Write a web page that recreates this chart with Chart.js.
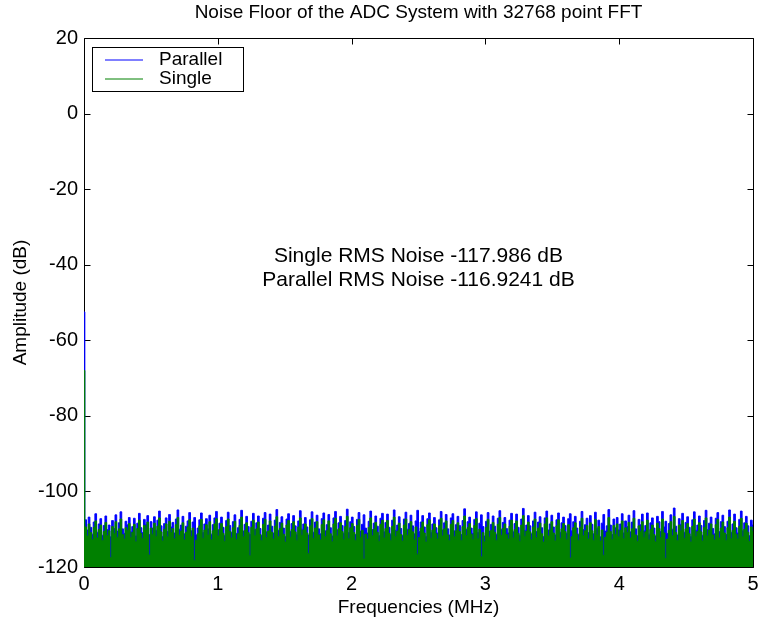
<!DOCTYPE html>
<html>
<head>
<meta charset="utf-8">
<title>Noise Floor of the ADC System</title>
<script src="https://cdn.jsdelivr.net/npm/chart.js@4.4.1/dist/chart.umd.min.js"></script>
<style>
  body { margin: 0; background: #fff; }
  #graph { display: block; }
</style>
</head>
<body>
<canvas id="graph" width="758" height="624"></canvas>
<script>
// values (dB), one per frequency bin, bin 0 is DC
var parallelDb = [
  -52.5, -107.5, -110.2, -106.8, -109.5, -111.3, -108.1, -105.9, -110.8, -108.6, -107.2, -111.6, -109.0, -106.5, -110.1, -108.9, -112.0, -107.7, -109.8, -106.2,
  -110.5, -108.3, -105.4, -109.9, -111.1, -107.9, -108.8, -106.9, -110.7, -109.3, -107.1, -111.8, -108.4, -105.8, -109.6, -110.9, -107.4, -108.7, -106.4, -111.4,
  -108.0, -109.7, -106.7, -110.3, -107.6, -105.2, -109.1, -111.9, -108.5, -107.0, -110.6, -106.1, -109.4, -108.2, -111.0, -107.3, -104.9, -110.0, -108.9, -106.6,
  -111.2, -109.2, -107.8, -105.6, -110.4, -108.1, -106.9, -111.5, -109.7, -107.5, -105.7, -110.9, -108.6, -107.2, -109.9, -106.3, -111.3, -108.8, -107.0, -105.3,
  -110.2, -108.4, -106.8, -109.5, -111.7, -107.7, -105.5, -109.0, -110.8, -108.0, -106.2, -111.1, -109.6, -107.4, -105.0, -110.5, -108.7, -106.6, -109.3, -111.4,
  -107.9, -105.8, -110.1, -108.3, -106.5, -109.8, -111.6, -107.1, -105.6, -110.7, -108.9, -106.0, -109.2, -111.0, -107.6, -104.8, -110.3, -108.2, -106.7, -109.7,
  -111.9, -107.3, -105.9, -110.6, -108.5, -106.4, -109.1, -111.3, -107.8, -105.1, -110.0, -108.6, -106.9, -109.4, -111.5, -107.5, -105.4, -110.8, -108.1, -106.3,
  -109.9, -111.2, -107.2, -105.7, -110.4, -108.8, -106.1, -109.6, -111.8, -107.0, -105.3, -110.2, -108.3, -106.6, -109.0, -111.1, -107.7, -104.7, -110.9, -108.0,
  -106.8, -109.3, -111.4, -107.4, -105.6, -110.5, -108.7, -106.2, -109.7, -111.0, -107.9, -105.2, -110.1, -108.4, -106.5, -109.2, -111.7, -107.1, -105.8, -110.7,
  -108.2, -106.0, -109.5, -111.3, -107.6, -104.9, -110.3, -108.9, -106.7, -109.8, -111.6, -107.3, -105.5, -110.0, -108.5, -106.3, -109.1, -111.2, -107.8, -105.0,
  -110.6, -108.1, -106.4, -109.4, -111.9, -107.2, -105.7, -110.8, -108.6, -106.9, -109.6, -111.0, -107.5, -105.3, -110.2, -108.3, -106.1, -109.9, -111.5, -107.0,
  -105.9, -110.4, -108.8, -106.6, -109.0, -111.4, -107.7, -104.6, -110.1, -108.0, -106.8, -109.7, -111.1, -107.4, -105.4, -110.9, -108.4, -106.2, -109.3, -111.8,
  -107.9, -105.6, -110.5, -108.7, -106.5, -109.2, -111.3, -107.1, -105.1, -110.0, -108.2, -106.9, -109.8, -111.0, -107.6, -105.8, -110.7, -108.5, -106.0, -109.5,
  -111.6, -107.3, -104.5, -110.3, -108.9, -106.4, -109.1, -111.2, -107.8, -105.5, -110.6, -108.1, -106.7, -109.6, -111.9, -107.0, -105.2, -110.2, -108.6, -106.3,
  -109.4, -111.5, -107.5, -105.7, -110.8, -108.3, -106.8, -109.0, -111.1, -107.2, -105.9, -110.4, -108.0, -106.6, -109.7, -111.3, -107.9, -105.3, -110.1, -108.8,
  -107.1, -110.9, -106.4, -108.7, -111.2, -105.5, -109.8, -107.6, -112.0, -108.4, -106.1, -110.5, -109.1, -104.8, -108.9, -111.4, -107.3, -109.6, -106.9, -110.2,
  -108.6, -105.9, -111.0, -107.8, -109.3, -106.3, -110.7, -108.1, -105.1, -109.9, -111.7, -107.4, -108.8, -106.0, -110.4, -109.0, -105.7, -111.3, -108.3, -107.0,
  -109.7, -111.8, -106.6, -108.0, -110.6, -105.3, -109.4, -107.9, -111.1, -108.5, -106.2, -110.0, -104.4, -109.2, -111.5, -107.2, -108.7, -105.8, -110.8, -108.2,
  -106.7, -109.5, -111.9, -107.5, -105.4, -110.3, -108.9, -106.5, -109.0, -111.6, -107.7, -105.0, -110.1, -108.4, -106.8, -109.8, -111.2, -107.1, -105.6, -110.6,
  -108.0, -106.3, -109.3, -111.4, -107.9, -104.9, -110.9, -108.6, -106.0, -109.6, -111.0, -107.4, -105.2, -110.4, -108.3, -106.6, -109.1, -111.7, -107.6, -108.9
];

var singleDb = [
  -68.0, -109.4, -111.8, -108.6, -110.9, -112.7, -109.5, -107.8, -112.3, -110.1, -108.9, -113.0, -110.6, -108.2, -111.7, -110.4, -117.5, -109.3, -111.2, -108.0,
  -112.1, -109.9, -107.3, -111.4, -112.6, -109.6, -110.3, -108.5, -112.2, -110.8, -108.7, -113.3, -109.8, -107.6, -111.1, -112.4, -109.0, -110.2, -108.1, -116.8,
  -109.7, -111.3, -108.4, -111.9, -109.2, -107.0, -110.7, -113.1, -110.0, -108.6, -112.0, -107.9, -110.9, -109.8, -112.5, -108.8, -106.9, -111.6, -110.5, -108.3,
  -112.8, -110.8, -109.4, -107.5, -111.9, -109.7, -118.2, -112.9, -111.2, -109.1, -107.4, -112.4, -110.2, -108.8, -111.5, -108.0, -112.8, -110.4, -108.6, -107.2,
  -111.8, -110.0, -108.5, -111.1, -113.2, -109.3, -107.3, -110.6, -112.3, -109.6, -107.9, -112.7, -111.2, -109.0, -106.8, -112.0, -110.3, -108.3, -110.9, -117.0,
  -109.5, -107.6, -111.7, -109.9, -108.1, -111.4, -113.0, -108.7, -107.4, -112.2, -110.5, -107.8, -110.8, -112.6, -109.2, -106.7, -111.9, -109.8, -108.4, -111.3,
  -113.4, -108.9, -107.7, -112.1, -110.1, -108.0, -110.7, -112.9, -109.4, -107.0, -111.6, -110.2, -108.6, -111.0, -116.4, -109.1, -107.2, -112.4, -109.7, -108.0,
  -111.5, -112.8, -108.8, -107.5, -111.9, -110.4, -107.8, -111.2, -113.3, -108.6, -107.1, -111.8, -109.9, -108.3, -110.6, -112.7, -109.3, -106.6, -112.5, -109.6,
  -108.5, -110.9, -112.9, -109.0, -107.4, -112.1, -110.3, -117.9, -111.3, -112.6, -109.5, -107.0, -111.7, -110.0, -108.2, -110.8, -113.2, -108.7, -107.6, -112.3,
  -109.8, -107.7, -111.1, -112.9, -109.2, -106.8, -111.9, -110.5, -108.4, -111.4, -113.1, -108.9, -107.3, -111.6, -110.1, -108.0, -110.7, -112.8, -109.4, -116.6,
  -112.2, -109.7, -108.1, -111.0, -113.4, -108.8, -107.5, -112.4, -110.2, -108.6, -111.2, -112.6, -109.1, -107.1, -111.8, -109.9, -107.8, -111.5, -113.0, -108.7,
  -107.7, -112.0, -110.4, -108.3, -110.6, -113.0, -109.3, -106.5, -111.7, -109.6, -108.5, -111.3, -112.7, -109.0, -107.2, -112.5, -110.0, -117.3, -110.9, -113.3,
  -109.5, -107.4, -112.1, -110.3, -108.2, -110.8, -112.9, -108.7, -106.9, -111.6, -109.8, -108.6, -111.4, -112.6, -109.2, -107.6, -112.3, -110.1, -107.8, -111.1,
  -113.2, -108.9, -106.4, -111.9, -110.5, -108.1, -110.7, -112.8, -109.4, -107.3, -112.2, -109.7, -108.4, -111.2, -113.4, -108.6, -107.0, -111.8, -110.2, -108.0,
  -111.0, -113.1, -109.1, -107.5, -112.4, -109.9, -108.5, -110.6, -112.7, -108.8, -117.6, -112.0, -109.6, -108.3, -111.3, -112.9, -109.5, -107.1, -111.7, -110.4,
  -109.0, -112.6, -108.3, -110.4, -112.9, -107.4, -111.5, -109.3, -113.1, -110.2, -116.9, -112.1, -110.8, -106.9, -110.6, -112.7, -109.0, -111.3, -108.6, -112.0,
  -110.3, -107.8, -112.5, -109.6, -110.9, -108.2, -112.3, -109.9, -107.1, -111.5, -113.2, -109.1, -110.6, -108.0, -112.1, -110.7, -107.6, -112.8, -110.1, -108.9,
  -111.4, -113.3, -108.4, -109.8, -112.2, -107.3, -111.0, -117.7, -112.6, -110.3, -108.0, -111.7, -106.6, -110.9, -113.0, -108.9, -110.5, -107.7, -112.4, -109.9,
  -108.5, -111.2, -113.4, -109.2, -107.3, -111.9, -110.6, -108.3, -110.7, -113.1, -109.5, -107.0, -111.8, -110.2, -108.6, -111.5, -112.8, -108.8, -107.4, -112.3,
  -109.7, -108.1, -111.0, -112.9, -109.6, -106.8, -112.5, -110.3, -107.9, -111.3, -112.6, -109.2, -107.1, -112.0, -110.0, -108.4, -110.8, -113.2, -109.4, -110.6
];

var seriesNames = ['Parallel', 'Single'];
var seriesColors = ['#0000ff', '#008000'];
var xTicks = [0, 1, 2, 3, 4, 5];
var yTicks = [-120, -100, -80, -60, -40, -20, 0, 20];
var noiseNotes = ['Single RMS Noise -117.986 dB', 'Parallel RMS Noise -116.9241 dB'];

// FFT bins are evenly spaced from 0 to 5 MHz
var maxFreq = 5;
function toPoints(values) {
  var step = maxFreq / (values.length - 1);
  return values.map(function (v, i) {
    return { x: i * step, y: v };
  });
}

var font = 'Liberation Sans, Arial, Helvetica, sans-serif';

// matlab style: box with inward ticks under the data, legend and text on top
var matlabLook = {
  id: 'matlabLook',
  beforeDatasetsDraw: function (chart) {
    var ctx = chart.ctx;
    var a = chart.chartArea;
    var xs = chart.scales.x;
    var ys = chart.scales.y;
    var L = Math.round(a.left) + 0.5, R = Math.round(a.right) + 0.5;
    var T = Math.round(a.top) + 0.5, B = Math.round(a.bottom) + 0.5;
    ctx.save();
    ctx.strokeStyle = '#000';
    ctx.lineWidth = 1;
    ctx.beginPath();
    ctx.rect(L, T, R - L, B - T);
    xTicks.forEach(function (t) {
      var p = Math.round(xs.getPixelForValue(t)) + 0.5;
      ctx.moveTo(p, B); ctx.lineTo(p, B - 6);
      ctx.moveTo(p, T); ctx.lineTo(p, T + 6);
    });
    yTicks.forEach(function (t) {
      var p = Math.round(ys.getPixelForValue(t)) + 0.5;
      ctx.moveTo(L, p); ctx.lineTo(L + 6, p);
      ctx.moveTo(R, p); ctx.lineTo(R - 6, p);
    });
    ctx.stroke();
    ctx.restore();
  },
  afterDraw: function (chart) {
    var ctx = chart.ctx;
    var a = chart.chartArea;
    var xs = chart.scales.x;
    var ys = chart.scales.y;
    ctx.save();
    ctx.lineWidth = 1;

    // legend box
    ctx.fillStyle = '#fff';
    ctx.strokeStyle = '#000';
    ctx.fillRect(92, 47, 151, 44);
    ctx.strokeRect(92.5, 47.5, 151, 44);
    ctx.font = '19px ' + font;
    ctx.textBaseline = 'middle';
    ctx.textAlign = 'left';
    seriesNames.forEach(function (name, i) {
      var y = 60 + i * 19;
      ctx.strokeStyle = seriesColors[i];
      ctx.beginPath();
      ctx.moveTo(105, y); ctx.lineTo(143, y);
      ctx.stroke();
      ctx.fillStyle = '#000';
      ctx.fillText(name, 159, y);
    });

    // title
    ctx.textAlign = 'center';
    ctx.fillStyle = '#000';
    ctx.font = '19px ' + font;
    ctx.fillText('Noise Floor of the ADC System with 32768 point FFT', (a.left + a.right) / 2, 13);

    // rms notes
    ctx.font = '21px ' + font;
    var cx = xs.getPixelForValue(2.5);
    var cy = ys.getPixelForValue(-41);
    ctx.fillText(noiseNotes[0], cx, cy - 12);
    ctx.fillText(noiseNotes[1], cx, cy + 12);
    ctx.restore();
  }
};

function makeChart() {
  var ctx = document.getElementById('graph').getContext('2d');

  var chart = new Chart(ctx, {
    type: 'line',
    data: {
      datasets: [
        {
          label: seriesNames[0],
          data: toPoints(parallelDb),
          borderColor: seriesColors[0],
          backgroundColor: seriesColors[0],
          borderWidth: 1,
          pointRadius: 0,
          stepped: 'middle',
          fill: 'start',
          order: 2
        },
        {
          label: seriesNames[1],
          data: toPoints(singleDb),
          borderColor: seriesColors[1],
          backgroundColor: seriesColors[1],
          borderWidth: 1,
          pointRadius: 0,
          stepped: 'middle',
          fill: 'start',
          order: 1
        }
      ]
    },
    options: {
      responsive: false,
      animation: false,
      devicePixelRatio: 1,
      layout: { padding: { left: 0, right: 5, top: 38, bottom: 0 } },
      plugins: {
        legend: { display: false },
        tooltip: { enabled: false },
        title: { display: false }
      },
      scales: {
        x: {
          type: 'linear',
          min: 0,
          max: 5,
          grid: { display: false, drawTicks: false },
          border: { display: false },
          ticks: { stepSize: 1, color: '#000', font: { size: 20, family: font }, padding: 5, maxRotation: 0 },
          title: { display: true, text: 'Frequencies (MHz)', color: '#000', font: { size: 19, family: font }, padding: { top: 0, bottom: 5 } },
          afterFit: function (scale) {
            scale.height = 57;
            scale.paddingLeft = 0;
            scale.paddingRight = 0;
          }
        },
        y: {
          min: -120,
          max: 20,
          grid: { display: false, drawTicks: false },
          border: { display: false },
          ticks: { stepSize: 20, color: '#000', font: { size: 20, family: font }, padding: 6 },
          title: { display: true, text: 'Amplitude (dB)', color: '#000', font: { size: 19, family: font }, padding: { top: 9, bottom: 0 } },
          afterFit: function (scale) { scale.width = 84; }
        }
      }
    },
    plugins: [matlabLook]
  });
}

makeChart();
</script>
</body>
</html>
